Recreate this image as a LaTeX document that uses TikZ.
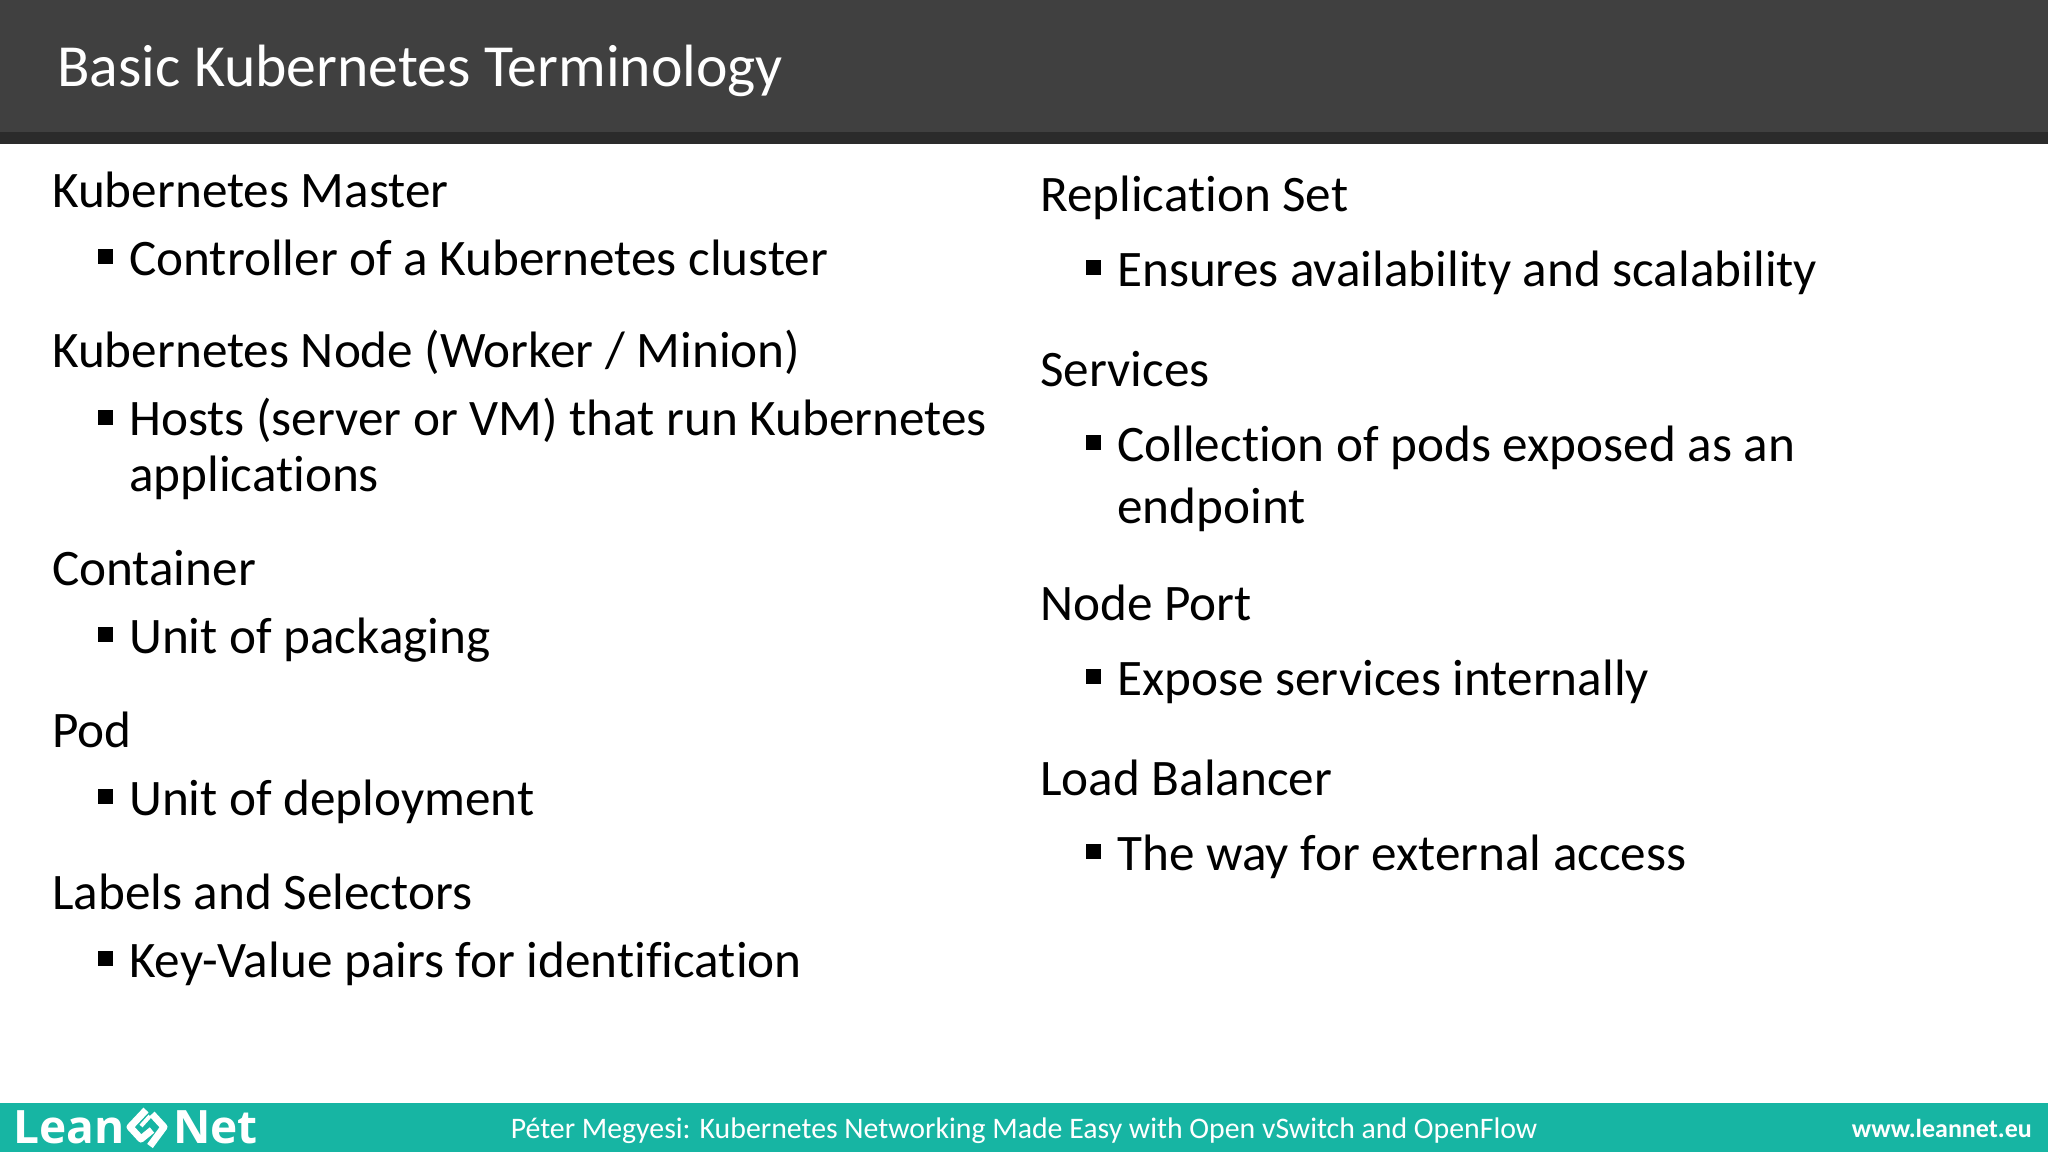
\documentclass[tikz,border=0pt]{standalone}
\usepackage{fontspec}
\setmainfont[RawFeature=-liga]{Carlito}
\newfontfamily\logofont{Open Sans}
\usetikzlibrary{positioning}
\definecolor{headgrey}{HTML}{404040}
\definecolor{headdark}{HTML}{2B2B2B}
\definecolor{footteal}{HTML}{17B5A3}
\tikzset{
	termtext/.style={anchor=base west, inner sep=0pt, font=\fontsize{51.2}{51.2}\selectfont},
	squaremark/.style={fill=black, inner sep=0pt, minimum size=15pt},
	footnote/.style={inner sep=0pt, text=white},
	logomark/.style={white, line width=7pt, line join=round}
}
\begin{document}
\begin{tikzpicture}[x=1pt, y=-1pt]
	\useasboundingbox (0,0) rectangle (2048,1152);
	\fill[white] (0,0) rectangle (2048,1152);
	\fill[headgrey] (0,0) rectangle (2048,132);
	\fill[headdark] (0,132) rectangle (2048,144);
	\fill[footteal] (0,1103) rectangle (2048,1152);
	\node[anchor=base west, inner sep=0pt, text=white, font=\fontsize{59.7}{59.7}\selectfont] (title) at (57,86) {Basic Kubernetes Terminology};
	% left column
	\node[termtext] (master) at (52,207) {Kubernetes Master};
	\node[termtext] (masterA) at (129,275) {Controller of a Kubernetes cluster};
	\node[termtext] (worker) at (52,367) {Kubernetes Node (Worker / Minion)};
	\node[termtext] (workerA) at (129,435) {Hosts (server or VM) that run Kubernetes};
	\node[termtext] (workerB) at (129,491) {applications};
	\node[termtext] (container) at (52,585) {Container};
	\node[termtext] (containerA) at (129,653) {Unit of packaging};
	\node[termtext] (pod) at (52,747) {Pod};
	\node[termtext] (podA) at (129,815) {Unit of deployment};
	\node[termtext] (labels) at (52,909) {Labels and Selectors};
	\node[termtext] (labelsA) at (129,977) {Key-Value pairs for identification};
	\foreach \y in {256,417,634,796,958}
		\node[squaremark] (markL\y) at (105.5,\y) {};
	% right column
	\node[termtext] (replica) at (1040,211) {Replication Set};
	\node[termtext] (replicaA) at (1117,286) {Ensures availability and scalability};
	\node[termtext] (services) at (1040,386) {Services};
	\node[termtext] (servicesA) at (1117,461) {Collection of pods exposed as an};
	\node[termtext] (servicesB) at (1117,523) {endpoint};
	\node[termtext] (nodeport) at (1040,620) {Node Port};
	\node[termtext] (nodeportA) at (1117,695) {Expose services internally};
	\node[termtext] (balancer) at (1040,795) {Load Balancer};
	\node[termtext] (balancerA) at (1117,870) {The way for external access};
	\foreach \y in {267,442,676,851}
		\node[squaremark] (markR\y) at (1093,\y) {};
	% footer
	\node[footnote, anchor=base, font=\fontsize{29.8}{29.8}\selectfont] (talk) at (1024,1138) {Péter Megyesi: Kubernetes Networking Made Easy with Open vSwitch and OpenFlow};
	\node[footnote, anchor=base east, font=\fontsize{26}{26}\selectfont\bfseries] (site) at (2032,1137) {www.leannet.eu};
	\node[footnote, anchor=base west, font=\fontsize{46}{46}\selectfont\logofont\bfseries] (lean) at (13,1143) {Lean};
	\node[footnote, anchor=base west, font=\fontsize{46}{46}\selectfont\logofont\bfseries] (net) at (173,1143) {Net};
	% logo mark
	\draw[logomark] (146,1110) -- (130,1127) -- (141,1139) -- (152,1130);
	\draw[logomark] (152,1114) -- (164,1127) -- (150,1146);
	\draw[logomark, line width=4pt] (141,1126) -- (150,1116);
\end{tikzpicture}
\end{document}
